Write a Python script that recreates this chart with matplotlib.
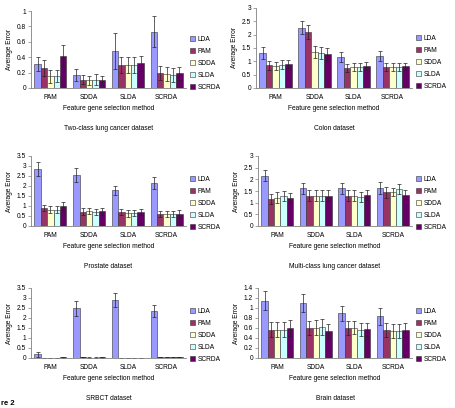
import numpy as np
import matplotlib
matplotlib.use('Agg')
import matplotlib.pyplot as plt
from matplotlib.ticker import FormatStrFormatter

plt.rcParams['font.family'] = ['Liberation Sans', 'DejaVu Sans']

# groups on the x axis (feature gene selection method) and the classifiers
groups = ['PAM', 'SDDA', 'SLDA', 'SCRDA']
methods = ['LDA', 'PAM', 'SDDA', 'SLDA', 'SCRDA']
colors = ['#9999FF', '#993366', '#FFFFCC', '#CCFFFF', '#660066']

# average error, one row per classifier, one column per group
lung2_mean = [[0.31, 0.17, 0.48, 0.73],
              [0.26, 0.11, 0.30, 0.20],
              [0.15, 0.10, 0.30, 0.18],
              [0.16, 0.11, 0.30, 0.17],
              [0.42, 0.10, 0.32, 0.19]]
lung2_err = [[0.09, 0.08, 0.23, 0.20],
             [0.10, 0.06, 0.10, 0.09],
             [0.08, 0.06, 0.10, 0.09],
             [0.08, 0.07, 0.10, 0.09],
             [0.14, 0.06, 0.10, 0.08]]

colon_mean = [[1.30, 2.26, 1.15, 1.20],
              [0.85, 2.10, 0.75, 0.79],
              [0.82, 1.35, 0.79, 0.79],
              [0.87, 1.32, 0.79, 0.79],
              [0.89, 1.27, 0.82, 0.81]]
colon_err = [[0.22, 0.25, 0.19, 0.20],
             [0.16, 0.25, 0.15, 0.15],
             [0.16, 0.22, 0.15, 0.15],
             [0.17, 0.22, 0.15, 0.15],
             [0.15, 0.22, 0.16, 0.14]]

prostate_mean = [[2.87, 2.55, 1.78, 2.17],
                 [0.90, 0.72, 0.72, 0.58],
                 [0.82, 0.73, 0.63, 0.60],
                 [0.82, 0.70, 0.63, 0.60],
                 [1.00, 0.73, 0.70, 0.62]]
prostate_err = [[0.35, 0.33, 0.24, 0.30],
                [0.17, 0.16, 0.15, 0.15],
                [0.18, 0.15, 0.17, 0.15],
                [0.18, 0.13, 0.15, 0.13],
                [0.20, 0.17, 0.13, 0.20]]

lungm_mean = [[2.16, 1.61, 1.61, 1.63],
              [1.17, 1.30, 1.30, 1.44],
              [1.21, 1.30, 1.30, 1.45],
              [1.29, 1.30, 1.24, 1.59],
              [1.19, 1.30, 1.33, 1.35]]
lungm_err = [[0.25, 0.25, 0.25, 0.26],
             [0.22, 0.23, 0.23, 0.22],
             [0.23, 0.23, 0.23, 0.18],
             [0.22, 0.23, 0.23, 0.21],
             [0.22, 0.23, 0.21, 0.19]]

srbct_mean = [[0.18, 2.48, 2.90, 2.35],
              [0.01, 0.04, 0.01, 0.05],
              [0.00, 0.02, 0.01, 0.04],
              [0.01, 0.02, 0.01, 0.05],
              [0.04, 0.03, 0.01, 0.04]]
srbct_err = [[0.12, 0.39, 0.35, 0.28],
             [0.01, 0.01, 0.00, 0.01],
             [0.00, 0.01, 0.00, 0.01],
             [0.01, 0.01, 0.00, 0.01],
             [0.02, 0.01, 0.00, 0.01]]

brain_mean = [[1.15, 1.10, 0.90, 0.84],
              [0.57, 0.61, 0.60, 0.56],
              [0.57, 0.61, 0.61, 0.54],
              [0.57, 0.63, 0.57, 0.54],
              [0.61, 0.55, 0.58, 0.57]]
brain_err = [[0.19, 0.18, 0.15, 0.17],
             [0.15, 0.14, 0.14, 0.14],
             [0.15, 0.15, 0.13, 0.14],
             [0.15, 0.16, 0.13, 0.14],
             [0.16, 0.14, 0.13, 0.14]]

titles = ['Two-class lung cancer dataset', 'Colon dataset', 'Prostate dataset',
          'Multi-class lung cancer dataset', 'SRBCT dataset', 'Brain dataset']
means = [lung2_mean, colon_mean, prostate_mean, lungm_mean, srbct_mean, brain_mean]
errs = [lung2_err, colon_err, prostate_err, lungm_err, srbct_err, brain_err]
ymax = [1, 3, 3.5, 3, 3.5, 1.4]
ystep = [0.2, 0.5, 0.5, 0.5, 0.5, 0.2]

W, H = 455, 408
fig = plt.figure(figsize=(W / 100, H / 100), dpi=100)

# axes boxes in pixels: left, top, right, bottom
boxes = [(31, 11, 186, 88), (256, 8, 412, 88),
         (31, 156, 186, 226), (258, 156, 412, 226),
         (31, 288, 186, 358), (258, 288, 412, 358)]

fs = 4.8
grey = '#808080'
bw = 0.165

for k in range(6):
    l, t, r, b = boxes[k]
    ax = fig.add_axes([l / W, 1 - b / H, (r - l) / W, (b - t) / H])
    x = np.arange(len(groups))
    for j in range(len(methods)):
        ax.bar(x + (j - 2) * bw, means[k][j], bw, color=colors[j],
               edgecolor='#333333', linewidth=0.4, label=methods[j],
               yerr=errs[k][j], error_kw=dict(ecolor='#222222', elinewidth=0.5,
                                              capsize=1.3, capthick=0.5))
    ax.set_xlim(-0.5, 3.5)
    ax.set_ylim(0, ymax[k])
    ax.set_yticks(np.arange(0, ymax[k] + 1e-6, ystep[k]))
    ax.yaxis.set_major_formatter(FormatStrFormatter('%g'))
    ax.set_xticks(x)
    ax.set_xticklabels(groups)
    ax.tick_params(axis='y', labelsize=fs, length=2, width=0.5, color=grey, pad=1.5)
    ax.tick_params(axis='x', labelsize=fs, length=0, pad=4)
    for s in ['top', 'right']:
        ax.spines[s].set_visible(False)
    for s in ['left', 'bottom']:
        ax.spines[s].set_color(grey)
        ax.spines[s].set_linewidth(0.6)
    ax.set_ylabel('Average Error', fontsize=fs, labelpad=3)
    ax.set_xlabel('Feature gene selection method', fontsize=fs, labelpad=3)
    ax.legend(loc='center left', bbox_to_anchor=(0.99, 0.32), frameon=False,
              fontsize=fs, handlelength=0.7, handleheight=0.7, handletextpad=0.4,
              labelspacing=0.75)
    fig.text((l + r) / 2 / W, 1 - (b + 40) / H, titles[k], fontsize=fs,
             ha='center', va='center')

# what is left of the figure caption at the page corner
fig.text(0.002, 0.002, 're 2', fontsize=5.5, fontweight='bold', ha='left', va='bottom')

plt.savefig('out.png', dpi=100)
